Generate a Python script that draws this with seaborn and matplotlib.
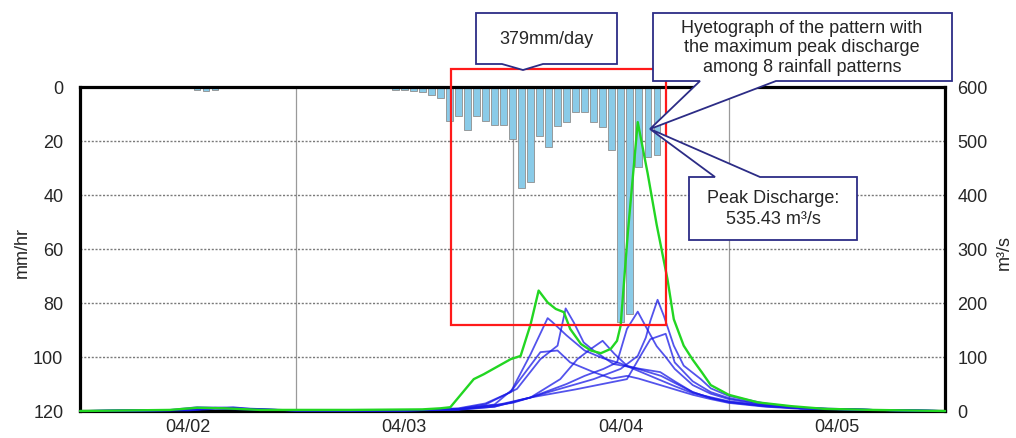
import matplotlib
matplotlib.use("Agg")
import numpy as np
import pandas as pd
import matplotlib.pyplot as plt
import seaborn as sns
from matplotlib.patches import Polygon, Rectangle

# ---------------- data ----------------
# hourly rainfall (mm/hr), hour counted from 04/02 00:00
rain_hours = [12, 13, 14, 15, 16,
              34, 35, 36, 37, 38, 39, 40,
              41, 42, 43, 44, 45, 46, 47, 48, 49, 50, 51, 52,
              53, 54, 55, 56, 57, 58, 59, 60, 61, 62, 63, 64]
rain_mm = [0.5, 1.0, 1.5, 1.0, 0.5,
           0.5, 1.0, 1.0, 1.5, 2.0, 3.0, 4.0,
           12.5, 10.9, 15.9, 10.9, 12.5, 13.9, 13.9, 19.3, 37.5, 35.3, 18.3, 22.1,
           14.3, 12.8, 9.1, 9.1, 12.8, 14.9, 23.3, 87.0, 84.0, 29.7, 26.0, 25.0]

# discharge of the pattern with the maximum peak (m3/s)
green_h = [0, 10, 13, 16, 20, 30, 38, 40, 41.1, 43.7, 44.8, 47.8, 48.9, 50, 50.9, 51.9,
           52.8, 53.7, 54.4, 55.6, 56.7, 57.8, 58.9, 59.6, 60, 60.8, 61.9, 63, 64, 65.2,
           65.9, 67, 68, 69, 70, 72, 75.2, 78.9, 82.6, 88, 96]
green_q = [0, 2, 6, 5, 2, 2, 3, 5, 7, 59, 68, 96, 102, 160, 223, 201,
           189, 183, 152, 124, 112, 107, 115, 130, 158, 330, 535, 440, 345, 244,
           170, 121, 95, 72, 48, 30, 16, 9, 4, 2, 0]

# discharge of the other 7 rainfall patterns (m3/s)
b1_h = [0, 10, 13, 16, 20, 30, 38, 42, 45, 47.8, 50, 51.9, 52.4, 54, 56, 58, 60, 62, 64, 66, 68, 72, 76, 80, 88, 96]
b1_q = [0, 2, 7, 6, 2, 1, 2, 5, 14, 35, 105, 172, 165, 140, 112, 98, 88, 74, 60, 46, 33, 18, 10, 5, 2, 0]
b2_h = [0, 10, 14, 17, 20, 30, 38, 42, 45, 48.5, 51.1, 53, 53.9, 54.8, 55.9, 57, 59.2, 62.2, 64.4, 66, 68, 70, 72, 76, 80, 88, 96]
b2_q = [0, 1, 5, 7, 2, 1, 2, 4, 12, 41, 96, 121, 190, 164, 127, 112, 87, 78, 72, 55, 35, 24, 17, 9, 5, 2, 0]
b3_h = [0, 12, 15, 18, 24, 36, 42, 46, 50, 53.3, 55.2, 56.7, 58, 59.3, 60.7, 62.5, 64.5, 66, 68, 70, 72, 76, 80, 88, 96]
b3_q = [0, 2, 5, 4, 1, 1, 3, 10, 25, 59, 96, 115, 130, 106, 84, 75, 65, 52, 35, 24, 16, 9, 5, 2, 0]
b4_h = [0, 12, 15, 18, 24, 36, 42, 46, 50, 54, 56, 58.1, 59.6, 60.7, 61.9, 63, 64, 65, 66, 68, 70, 72, 76, 80, 88, 96]
b4_q = [0, 2, 5, 4, 1, 1, 3, 8, 25, 50, 65, 78, 90, 152, 184, 150, 120, 100, 78, 48, 32, 22, 11, 5, 2, 0]
b5_h = [0, 12, 15, 18, 24, 36, 42, 48, 52, 57, 60, 61.9, 62.8, 63.3, 64.1, 64.8, 65.9, 67, 68.9, 70, 72, 76, 80, 88, 96]
b5_q = [0, 2, 6, 5, 1, 1, 3, 15, 35, 59, 78, 102, 136, 167, 206, 176, 121, 84, 59, 42, 28, 14, 6, 2, 0]
b6_h = [0, 12, 15, 18, 24, 36, 42, 46, 50, 55, 58, 60.7, 62.2, 63.3, 65, 66, 68, 70, 72, 76, 80, 88, 96]
b6_q = [0, 1, 4, 3, 1, 1, 2, 8, 25, 40, 50, 59, 102, 133, 143, 90, 55, 35, 24, 12, 5, 2, 0]
b7_h = [0, 12, 15, 18, 24, 36, 42, 46, 48, 51.1, 53, 54.4, 57, 59, 60.7, 62, 64, 66, 68, 70, 72, 76, 80, 88, 96]
b7_q = [0, 2, 5, 4, 1, 1, 3, 12, 40, 109, 112, 90, 72, 60, 65, 60, 50, 40, 30, 22, 15, 8, 4, 2, 0]

blue_series = [(b1_h, b1_q), (b2_h, b2_q), (b3_h, b3_q), (b4_h, b4_q),
               (b5_h, b5_q), (b6_h, b6_q), (b7_h, b7_q)]

date_ticks = [12, 36, 60, 84]
date_labels = ["04/02", "04/03", "04/04", "04/05"]
day_bounds = [24, 48, 72]
rain_ticks = [0, 20, 40, 60, 80, 100, 120]
q_ticks = [0, 100, 200, 300, 400, 500, 600]

# ---------------- style ----------------
sns.set_style("white")
plt.rcParams["font.family"] = ["Liberation Sans", "DejaVu Sans"]
FS = 13

W, H = 1016, 439
fig = plt.figure(figsize=(W / 100, H / 100), dpi=100)
ax = fig.add_axes([80 / W, 1 - 412 / H, (945 - 80) / W, (412 - 88) / H])
ax2 = ax.twinx()

# hyetograph bars (inverted left axis)
sns.barplot(x=rain_hours, y=rain_mm, native_scale=True, orient="x", width=0.7,
            color="#8acbe8", saturation=1, edgecolor="#8e8e8e", linewidth=0.6,
            errorbar=None, ax=ax)

ax.set_xlim(0, 96)
ax.set_ylim(120, 0)
ax.set_yticks(rain_ticks)
ax.set_xticks(date_ticks)
ax.set_xticklabels(date_labels)
ax.set_xticks(day_bounds, minor=True)
ax.set_axisbelow(True)
ax.grid(False)
ax.grid(axis="y", which="major", color="#7a7a7a", lw=1.0, ls=(0, (1.5, 1.2)))
ax.grid(axis="x", which="minor", color="#9a9a9a", lw=0.9, ls="-")
ax.tick_params(axis="both", which="both", length=0, labelsize=FS)
ax.tick_params(axis="y", pad=12)
ax.tick_params(axis="x", pad=5)
ax.set_xlabel("")
ax.set_ylabel("")
for s in ax.spines.values():
    s.set_visible(True)
    s.set_color("black")
    s.set_linewidth(2.3)

# discharge hydrographs (right axis)
for h, q in blue_series:
    sns.lineplot(x=h, y=q, ax=ax2, color="#1a1ae6", lw=1.3, alpha=0.75,
                 estimator=None, legend=False)
sns.lineplot(x=green_h, y=green_q, ax=ax2, color="#22d622", lw=1.7,
             estimator=None, legend=False)
for ln in ax2.lines:
    ln.set_clip_on(False)

ax2.set_ylim(0, 600)
ax2.set_yticks(q_ticks)
ax2.set_xlim(0, 96)
ax2.grid(False)
ax2.tick_params(axis="y", length=0, labelsize=FS, pad=9)
ax2.set_ylabel("")
ax2.set_xlabel("")
for s in ax2.spines.values():
    s.set_visible(False)

# axis titles
fig.text(22 / W, 1 - 252 / H, "mm/hr", rotation=90, ha="center", va="center", fontsize=FS)
fig.text(1004 / W, 1 - 252 / H, "m³/s", rotation=90, ha="center", va="center", fontsize=FS)

# red window for the 24-hour storm
rect = Rectangle((41.2, -6.5), 65.0 - 41.2, 88.0 + 6.5, transform=ax.transData,
                 fill=False, edgecolor="#ff1a1a", lw=1.6, clip_on=False, zorder=5)
fig.add_artist(rect)

# callouts (figure pixel coordinates)
def P(pts):
    return [(x / W, 1 - y / H) for x, y in pts]

edge = "#2c2c86"
call1 = Polygon(P([(476, 14), (617, 14), (617, 65), (543, 65), (523, 71), (502, 65), (476, 65)]),
                closed=True, facecolor="white", edgecolor=edge, lw=1.3,
                transform=fig.transFigure, zorder=6)
call2 = Polygon(P([(653, 14), (952, 14), (952, 82), (776, 82), (650, 130), (700, 82), (653, 82)]),
                closed=True, facecolor="white", edgecolor=edge, lw=1.3,
                transform=fig.transFigure, zorder=6)
call3 = Polygon(P([(689, 178), (715, 178), (650, 130), (760, 178), (857, 178), (857, 241), (689, 241)]),
                closed=True, facecolor="white", edgecolor=edge, lw=1.3,
                transform=fig.transFigure, zorder=6)
for c in (call1, call2, call3):
    fig.add_artist(c)

fig.text(546 / W, 1 - 40 / H, "379mm/day", ha="center", va="center", fontsize=FS, zorder=7)
fig.text(802 / W, 1 - 48 / H,
         "Hyetograph of the pattern with\nthe maximum peak discharge\namong 8 rainfall patterns",
         ha="center", va="center", fontsize=FS, linespacing=1.22, zorder=7)
fig.text(773 / W, 1 - 209 / H, "Peak Discharge:\n535.43 m³/s",
         ha="center", va="center", fontsize=FS, linespacing=1.25, zorder=7)

fig.savefig("out.png", dpi=100)
